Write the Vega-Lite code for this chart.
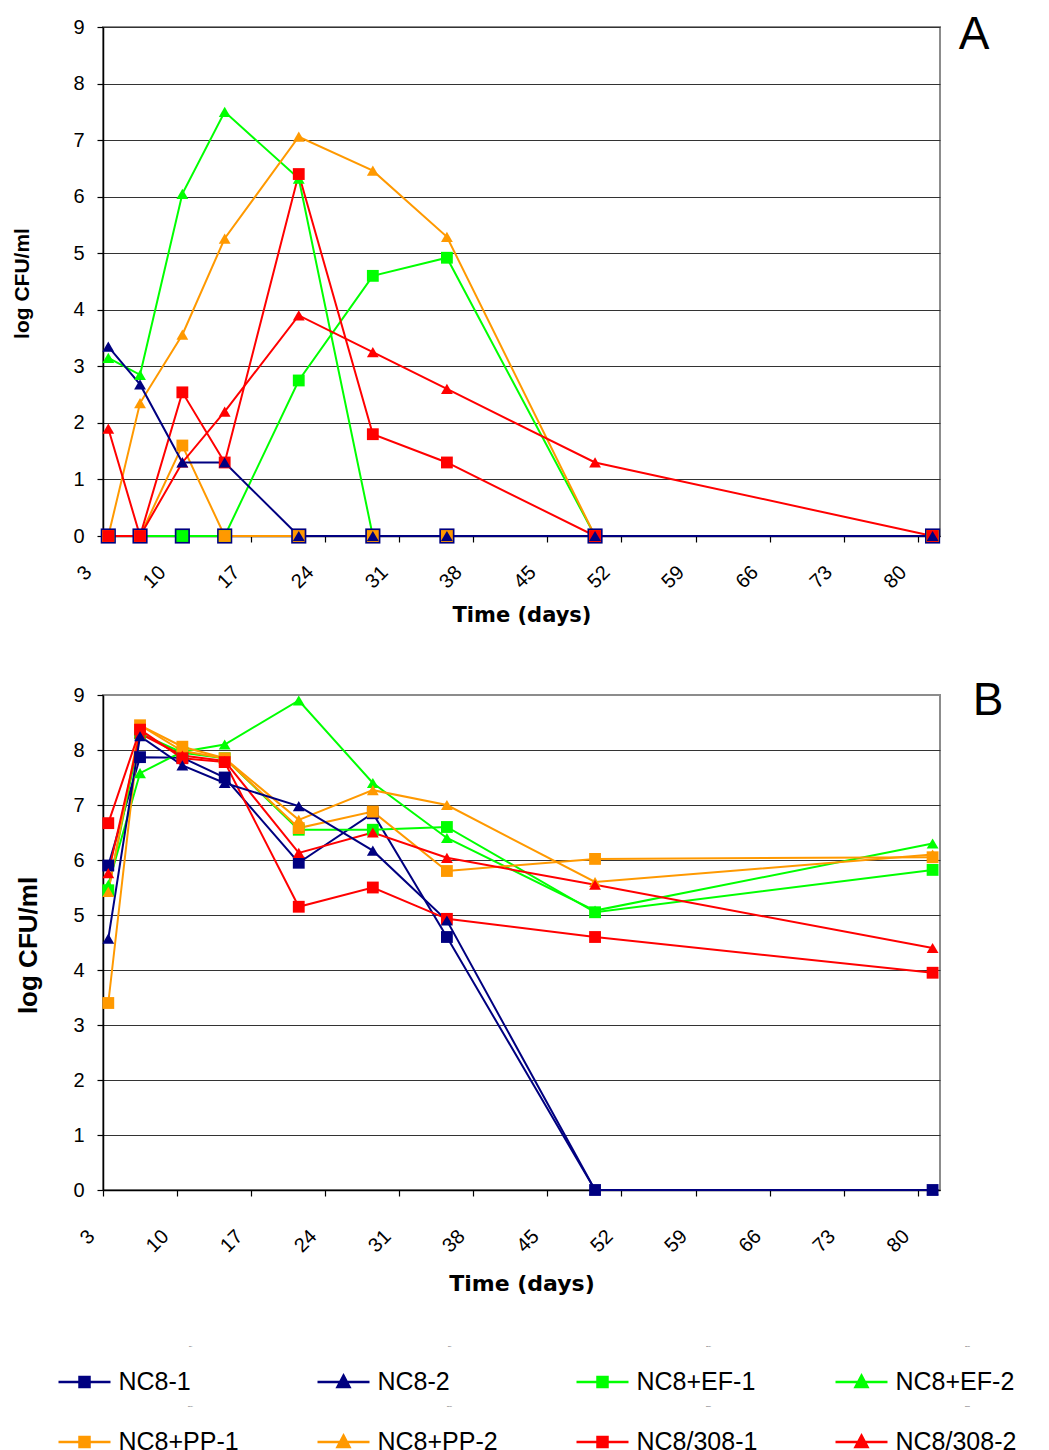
{
  "$schema": "https://vega.github.io/schema/vega-lite/v6.json",
  "padding": {"left": 10, "top": 11, "right": 0, "bottom": 0},
  "background": "white",
  "spacing": 51,
  "datasets": {
    "lg": [
      {"series":"NC8-1"},{"series":"NC8-2"},{"series":"NC8+EF-1"},{"series":"NC8+EF-2"},{"series":"NC8+PP-1"},{"series":"NC8+PP-2"},{"series":"NC8/308-1"},{"series":"NC8/308-2"}
    ],
    "d": [
      {"panel":"A","series":"NC8-1","day":3.5,"logcfu":0},{"panel":"A","series":"NC8-1","day":6.5,"logcfu":0},{"panel":"A","series":"NC8-1","day":10.5,"logcfu":0},{"panel":"A","series":"NC8-1","day":14.5,"logcfu":0},{"panel":"A","series":"NC8-1","day":21.5,"logcfu":0},{"panel":"A","series":"NC8-1","day":28.5,"logcfu":0},{"panel":"A","series":"NC8-1","day":35.5,"logcfu":0},{"panel":"A","series":"NC8-1","day":49.5,"logcfu":0},{"panel":"A","series":"NC8-1","day":81.4,"logcfu":0},
      {"panel":"A","series":"NC8+EF-1","day":3.5,"logcfu":0},{"panel":"A","series":"NC8+EF-1","day":6.5,"logcfu":0},{"panel":"A","series":"NC8+EF-1","day":10.5,"logcfu":0},{"panel":"A","series":"NC8+EF-1","day":14.5,"logcfu":0},{"panel":"A","series":"NC8+EF-1","day":21.5,"logcfu":2.75},{"panel":"A","series":"NC8+EF-1","day":28.5,"logcfu":4.6},{"panel":"A","series":"NC8+EF-1","day":35.5,"logcfu":4.92},{"panel":"A","series":"NC8+EF-1","day":49.5,"logcfu":0},{"panel":"A","series":"NC8+EF-1","day":81.4,"logcfu":0},
      {"panel":"A","series":"NC8+EF-2","day":3.5,"logcfu":3.15},{"panel":"A","series":"NC8+EF-2","day":6.5,"logcfu":2.85},{"panel":"A","series":"NC8+EF-2","day":10.5,"logcfu":6.05},{"panel":"A","series":"NC8+EF-2","day":14.5,"logcfu":7.5},{"panel":"A","series":"NC8+EF-2","day":21.5,"logcfu":6.32},{"panel":"A","series":"NC8+EF-2","day":28.5,"logcfu":0},{"panel":"A","series":"NC8+EF-2","day":35.5,"logcfu":0},{"panel":"A","series":"NC8+EF-2","day":49.5,"logcfu":0},{"panel":"A","series":"NC8+EF-2","day":81.4,"logcfu":0},
      {"panel":"A","series":"NC8+PP-1","day":3.5,"logcfu":0},{"panel":"A","series":"NC8+PP-1","day":6.5,"logcfu":0},{"panel":"A","series":"NC8+PP-1","day":10.5,"logcfu":1.6},{"panel":"A","series":"NC8+PP-1","day":14.5,"logcfu":0},{"panel":"A","series":"NC8+PP-1","day":21.5,"logcfu":0},{"panel":"A","series":"NC8+PP-1","day":28.5,"logcfu":0},{"panel":"A","series":"NC8+PP-1","day":35.5,"logcfu":0},{"panel":"A","series":"NC8+PP-1","day":49.5,"logcfu":0},{"panel":"A","series":"NC8+PP-1","day":81.4,"logcfu":0},
      {"panel":"A","series":"NC8+PP-2","day":3.5,"logcfu":0},{"panel":"A","series":"NC8+PP-2","day":6.5,"logcfu":2.35},{"panel":"A","series":"NC8+PP-2","day":10.5,"logcfu":3.56},{"panel":"A","series":"NC8+PP-2","day":14.5,"logcfu":5.26},{"panel":"A","series":"NC8+PP-2","day":21.5,"logcfu":7.06},{"panel":"A","series":"NC8+PP-2","day":28.5,"logcfu":6.46},{"panel":"A","series":"NC8+PP-2","day":35.5,"logcfu":5.29},{"panel":"A","series":"NC8+PP-2","day":49.5,"logcfu":0},{"panel":"A","series":"NC8+PP-2","day":81.4,"logcfu":0},
      {"panel":"A","series":"NC8/308-1","day":3.5,"logcfu":0},{"panel":"A","series":"NC8/308-1","day":6.5,"logcfu":0},{"panel":"A","series":"NC8/308-1","day":10.5,"logcfu":2.54},{"panel":"A","series":"NC8/308-1","day":14.5,"logcfu":1.3},{"panel":"A","series":"NC8/308-1","day":21.5,"logcfu":6.4},{"panel":"A","series":"NC8/308-1","day":28.5,"logcfu":1.8},{"panel":"A","series":"NC8/308-1","day":35.5,"logcfu":1.3},{"panel":"A","series":"NC8/308-1","day":49.5,"logcfu":0},{"panel":"A","series":"NC8/308-1","day":81.4,"logcfu":0},
      {"panel":"A","series":"NC8/308-2","day":3.5,"logcfu":1.9},{"panel":"A","series":"NC8/308-2","day":6.5,"logcfu":0},{"panel":"A","series":"NC8/308-2","day":10.5,"logcfu":1.3},{"panel":"A","series":"NC8/308-2","day":14.5,"logcfu":2.2},{"panel":"A","series":"NC8/308-2","day":21.5,"logcfu":3.9},{"panel":"A","series":"NC8/308-2","day":28.5,"logcfu":3.25},{"panel":"A","series":"NC8/308-2","day":35.5,"logcfu":2.6},{"panel":"A","series":"NC8/308-2","day":49.5,"logcfu":1.3},{"panel":"A","series":"NC8/308-2","day":81.4,"logcfu":0},
      {"panel":"A","series":"NC8-2","day":3.5,"logcfu":3.35},{"panel":"A","series":"NC8-2","day":6.5,"logcfu":2.68},{"panel":"A","series":"NC8-2","day":10.5,"logcfu":1.3},{"panel":"A","series":"NC8-2","day":14.5,"logcfu":1.3},{"panel":"A","series":"NC8-2","day":21.5,"logcfu":0},{"panel":"A","series":"NC8-2","day":28.5,"logcfu":0},{"panel":"A","series":"NC8-2","day":35.5,"logcfu":0},{"panel":"A","series":"NC8-2","day":49.5,"logcfu":0},{"panel":"A","series":"NC8-2","day":81.4,"logcfu":0},
      {"panel":"B","series":"NC8-1","day":3.5,"logcfu":5.9},{"panel":"B","series":"NC8-1","day":6.5,"logcfu":7.87},{"panel":"B","series":"NC8-1","day":10.5,"logcfu":7.86},{"panel":"B","series":"NC8-1","day":14.5,"logcfu":7.5},{"panel":"B","series":"NC8-1","day":21.5,"logcfu":5.95},{"panel":"B","series":"NC8-1","day":28.5,"logcfu":6.85},{"panel":"B","series":"NC8-1","day":35.5,"logcfu":4.6},{"panel":"B","series":"NC8-1","day":49.5,"logcfu":0},{"panel":"B","series":"NC8-1","day":81.4,"logcfu":0},
      {"panel":"B","series":"NC8+EF-1","day":3.5,"logcfu":5.45},{"panel":"B","series":"NC8+EF-1","day":6.5,"logcfu":8.3},{"panel":"B","series":"NC8+EF-1","day":10.5,"logcfu":7.95},{"panel":"B","series":"NC8+EF-1","day":14.5,"logcfu":7.85},{"panel":"B","series":"NC8+EF-1","day":21.5,"logcfu":6.55},{"panel":"B","series":"NC8+EF-1","day":28.5,"logcfu":6.55},{"panel":"B","series":"NC8+EF-1","day":35.5,"logcfu":6.6},{"panel":"B","series":"NC8+EF-1","day":49.5,"logcfu":5.05},{"panel":"B","series":"NC8+EF-1","day":81.4,"logcfu":5.82},
      {"panel":"B","series":"NC8+EF-2","day":3.5,"logcfu":5.55},{"panel":"B","series":"NC8+EF-2","day":6.5,"logcfu":7.58},{"panel":"B","series":"NC8+EF-2","day":10.5,"logcfu":7.97},{"panel":"B","series":"NC8+EF-2","day":14.5,"logcfu":8.1},{"panel":"B","series":"NC8+EF-2","day":21.5,"logcfu":8.9},{"panel":"B","series":"NC8+EF-2","day":28.5,"logcfu":7.4},{"panel":"B","series":"NC8+EF-2","day":35.5,"logcfu":6.4},{"panel":"B","series":"NC8+EF-2","day":49.5,"logcfu":5.08},{"panel":"B","series":"NC8+EF-2","day":81.4,"logcfu":6.3},
      {"panel":"B","series":"NC8+PP-1","day":3.5,"logcfu":3.4},{"panel":"B","series":"NC8+PP-1","day":6.5,"logcfu":8.45},{"panel":"B","series":"NC8+PP-1","day":10.5,"logcfu":8.06},{"panel":"B","series":"NC8+PP-1","day":14.5,"logcfu":7.85},{"panel":"B","series":"NC8+PP-1","day":21.5,"logcfu":6.58},{"panel":"B","series":"NC8+PP-1","day":28.5,"logcfu":6.88},{"panel":"B","series":"NC8+PP-1","day":35.5,"logcfu":5.8},{"panel":"B","series":"NC8+PP-1","day":49.5,"logcfu":6.02},{"panel":"B","series":"NC8+PP-1","day":81.4,"logcfu":6.05},
      {"panel":"B","series":"NC8+PP-2","day":3.5,"logcfu":5.42},{"panel":"B","series":"NC8+PP-2","day":6.5,"logcfu":8.45},{"panel":"B","series":"NC8+PP-2","day":10.5,"logcfu":7.98},{"panel":"B","series":"NC8+PP-2","day":14.5,"logcfu":7.85},{"panel":"B","series":"NC8+PP-2","day":21.5,"logcfu":6.73},{"panel":"B","series":"NC8+PP-2","day":28.5,"logcfu":7.27},{"panel":"B","series":"NC8+PP-2","day":35.5,"logcfu":7.0},{"panel":"B","series":"NC8+PP-2","day":49.5,"logcfu":5.6},{"panel":"B","series":"NC8+PP-2","day":81.4,"logcfu":6.1},
      {"panel":"B","series":"NC8/308-1","day":3.5,"logcfu":6.67},{"panel":"B","series":"NC8/308-1","day":6.5,"logcfu":8.37},{"panel":"B","series":"NC8/308-1","day":10.5,"logcfu":7.85},{"panel":"B","series":"NC8/308-1","day":14.5,"logcfu":7.78},{"panel":"B","series":"NC8/308-1","day":21.5,"logcfu":5.15},{"panel":"B","series":"NC8/308-1","day":28.5,"logcfu":5.5},{"panel":"B","series":"NC8/308-1","day":35.5,"logcfu":4.93},{"panel":"B","series":"NC8/308-1","day":49.5,"logcfu":4.6},{"panel":"B","series":"NC8/308-1","day":81.4,"logcfu":3.95},
      {"panel":"B","series":"NC8/308-2","day":3.5,"logcfu":5.76},{"panel":"B","series":"NC8/308-2","day":6.5,"logcfu":8.3},{"panel":"B","series":"NC8/308-2","day":10.5,"logcfu":7.9},{"panel":"B","series":"NC8/308-2","day":14.5,"logcfu":7.8},{"panel":"B","series":"NC8/308-2","day":21.5,"logcfu":6.13},{"panel":"B","series":"NC8/308-2","day":28.5,"logcfu":6.5},{"panel":"B","series":"NC8/308-2","day":35.5,"logcfu":6.04},{"panel":"B","series":"NC8/308-2","day":49.5,"logcfu":5.55},{"panel":"B","series":"NC8/308-2","day":81.4,"logcfu":4.4},
      {"panel":"B","series":"NC8-2","day":3.5,"logcfu":4.57},{"panel":"B","series":"NC8-2","day":6.5,"logcfu":8.25},{"panel":"B","series":"NC8-2","day":10.5,"logcfu":7.72},{"panel":"B","series":"NC8-2","day":14.5,"logcfu":7.4},{"panel":"B","series":"NC8-2","day":21.5,"logcfu":6.98},{"panel":"B","series":"NC8-2","day":28.5,"logcfu":6.17},{"panel":"B","series":"NC8-2","day":35.5,"logcfu":4.9},{"panel":"B","series":"NC8-2","day":49.5,"logcfu":0},{"panel":"B","series":"NC8-2","day":81.4,"logcfu":0}
    ]
  },
  "config": {
    "view": {"stroke": "#8c8c8c", "strokeWidth": 2},
    "axis": {"labelFont": "Liberation Sans", "labelFontSize": 20, "labelColor": "black", "titleColor": "black", "tickColor": "black", "domainColor": "black", "domainWidth": 1.5, "tickSize": 6, "tickWidth": 1.2},
    "header": {"labels": false, "title": null, "labelFontSize": 1, "labelPadding": 0}
  },
  "vconcat": [
    {
      "width": 837,
      "height": 509,
      "data": {"name": "d"},
      "transform": [{"filter": "datum.panel == 'A'"}],
      "title": {"text": "A", "orient": "right", "anchor": "start", "angle": 0, "align": "left", "baseline": "alphabetic", "font": "Liberation Sans", "fontSize": 46, "fontWeight": "normal", "color": "black", "offset": -12, "dy": 32},
      "encoding": {
        "x": {"field": "day", "type": "quantitative", "scale": {"domain": [3, 82.1], "nice": false, "zero": false},
          "axis": {"title": "Time (days)", "values": [3,10,17,24,31,38,45,52,59,66,73,80], "grid": false, "labelAngle": -45, "labelAlign": "right", "labelBaseline": "middle", "labelPadding": 27, "labelOffset": -15, "labelFlush": false, "labelOverlap": false, "titleFont": "DejaVu Sans", "titleFontSize": 21, "titleFontWeight": "bold", "titleY": 79, "titleBaseline": "middle"}},
        "y": {"field": "logcfu", "type": "quantitative", "scale": {"domain": [0, 9], "nice": false},
          "axis": {"title": "log CFU/ml", "values": [0,1,2,3,4,5,6,7,8,9], "grid": true, "gridColor": "#333333", "gridWidth": 1.2, "labelPadding": 13, "titleFont": "Liberation Sans", "titleFontSize": 21, "titleFontWeight": "bold", "titleX": -81, "titleY": 256, "titleBaseline": "middle", "titleAlign": "center"}}
      },
      "layer": [
        {"mark": {"type": "line", "strokeWidth": 2},
         "encoding": {"color": {"field": "series", "type": "nominal", "legend": null, "scale": {"domain": ["NC8-1","NC8-2","NC8+EF-1","NC8+EF-2","NC8+PP-1","NC8+PP-2","NC8/308-1","NC8/308-2"], "range": ["#000080","#000080","#00ff00","#00ff00","#ff9900","#ff9900","#ff0000","#ff0000"]}}}},
        {"mark": {"type": "point", "filled": true, "opacity": 1, "strokeWidth": 0},
         "encoding": {
           "color": {"field": "series", "type": "nominal", "legend": null},
           "shape": {"condition": {"test": "test(/-1$/, datum.series)", "value": "square"}, "value": "triangle-up"},
           "size": {"condition": {"test": "datum.series == 'NC8-1'", "value": 230}, "value": 140}
         }}
      ]
    },
    {
      "width": 837,
      "height": 495,
      "data": {"name": "d"},
      "transform": [{"filter": "datum.panel == 'B'"}],
      "title": {"text": "B", "orient": "right", "anchor": "start", "angle": 0, "align": "left", "baseline": "alphabetic", "font": "Liberation Sans", "fontSize": 46, "fontWeight": "normal", "color": "black", "offset": 2, "dy": 30},
      "encoding": {
        "x": {"field": "day", "type": "quantitative", "scale": {"domain": [3, 82.1], "nice": false, "zero": false},
          "axis": {"title": "Time (days)", "values": [3,10,17,24,31,38,45,52,59,66,73,80], "grid": false, "labelAngle": -45, "labelAlign": "right", "labelBaseline": "middle", "labelPadding": 37, "labelOffset": -12, "labelFlush": false, "labelOverlap": false, "titleFont": "DejaVu Sans", "titleFontSize": 22, "titleFontWeight": "bold", "titleY": 93, "titleBaseline": "middle"}},
        "y": {"field": "logcfu", "type": "quantitative", "scale": {"domain": [0, 9], "nice": false},
          "axis": {"title": "log CFU/ml", "values": [0,1,2,3,4,5,6,7,8,9], "grid": true, "gridColor": {"condition": {"test": "datum.value == 9", "value": "transparent"}, "value": "#333333"}, "gridWidth": 1.2, "labelPadding": 13, "titleFont": "Liberation Sans", "titleFontSize": 26, "titleFontWeight": "bold", "titleX": -75, "titleY": 250, "titleBaseline": "middle", "titleAlign": "center"}}
      },
      "layer": [
        {"mark": {"type": "line", "strokeWidth": 2},
         "encoding": {"color": {"field": "series", "type": "nominal", "legend": null}}},
        {"mark": {"type": "point", "filled": true, "opacity": 1, "strokeWidth": 0},
         "encoding": {
           "color": {"field": "series", "type": "nominal", "legend": null},
           "shape": {"condition": {"test": "test(/-1$/, datum.series)", "value": "square"}, "value": "triangle-up"},
           "size": {"value": 140}
         }}
      ]
    },
    {
      "data": {"name": "lg"},
      "facet": {"field": "series", "type": "nominal", "sort": ["NC8-1","NC8-2","NC8+EF-1","NC8+EF-2","NC8+PP-1","NC8+PP-2","NC8/308-1","NC8/308-2"], "header": null},
      "columns": 4,
      "spacing": {"row": -19, "column": 34},
      "spec": {
        "width": 175,
        "height": 60,
        "view": {"stroke": null},
        "layer": [
          {"mark": {"type": "point", "filled": true, "opacity": 1, "size": 1600, "strokeWidth": 2.5, "xOffset": -106, "yOffset": 5},
           "encoding": {
             "shape": {"field": "series", "type": "nominal", "legend": null,
               "scale": {"domain": ["NC8-1","NC8-2","NC8+EF-1","NC8+EF-2","NC8+PP-1","NC8+PP-2","NC8/308-1","NC8/308-2"],
                 "range": ["M-1.3,0H1.3M-0.25,-0.25H0.25V0.25H-0.25Z","M-1.3,0H1.3M0,-0.32L0.3,0.25H-0.3Z","M-1.3,0H1.3M-0.25,-0.25H0.25V0.25H-0.25Z","M-1.3,0H1.3M0,-0.32L0.3,0.25H-0.3Z","M-1.3,0H1.3M-0.25,-0.25H0.25V0.25H-0.25Z","M-1.3,0H1.3M0,-0.32L0.3,0.25H-0.3Z","M-1.3,0H1.3M-0.25,-0.25H0.25V0.25H-0.25Z","M-1.3,0H1.3M0,-0.32L0.3,0.25H-0.3Z"]}},
             "fill": {"field": "series", "type": "nominal", "legend": null,
               "scale": {"domain": ["NC8-1","NC8-2","NC8+EF-1","NC8+EF-2","NC8+PP-1","NC8+PP-2","NC8/308-1","NC8/308-2"], "range": ["#000080","#000080","#00ff00","#00ff00","#ff9900","#ff9900","#ff0000","#ff0000"]}},
             "stroke": {"field": "series", "type": "nominal", "legend": null,
               "scale": {"domain": ["NC8-1","NC8-2","NC8+EF-1","NC8+EF-2","NC8+PP-1","NC8+PP-2","NC8/308-1","NC8/308-2"], "range": ["#000080","#000080","#00ff00","#00ff00","#ff9900","#ff9900","#ff0000","#ff0000"]}}
           }},
          {"mark": {"type": "text", "align": "left", "baseline": "middle", "dx": -72, "dy": 5, "font": "Liberation Sans", "fontSize": 25, "color": "black"},
           "encoding": {"text": {"field": "series", "type": "nominal"}}}
        ]
      }
    }
  ]
}
